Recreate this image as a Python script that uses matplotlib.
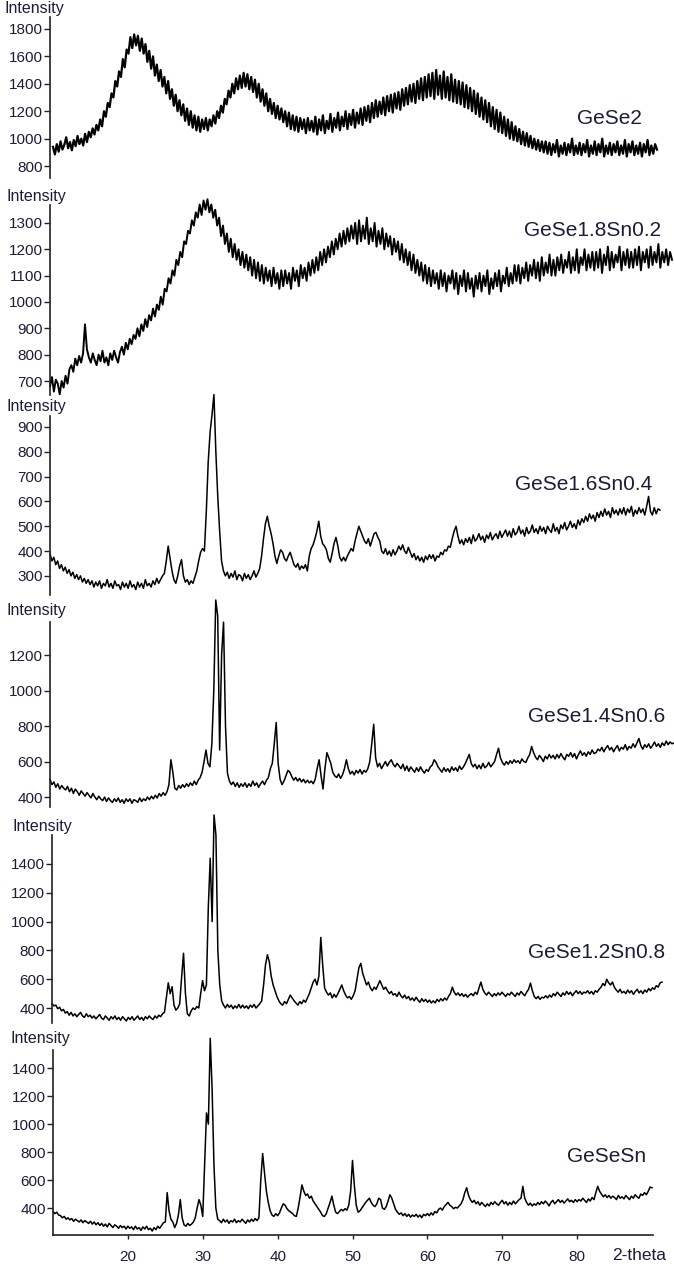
import numpy as np
import matplotlib as mpl
mpl.use('Agg')
import matplotlib.pyplot as plt

W, H = 674, 1268

# 2-theta grid, 0.25 deg steps from 10 to 90
two_theta = np.arange(10.0, 90.001, 0.25)

gese2 = [
    940, 885, 960, 905, 980, 920, 955, 1010, 930, 975, 915, 990, 945, 1020, 960, 1000, 950, 1035, 975, 1050,
    1010, 1075, 1030, 1100, 1060, 1140, 1090, 1200, 1160, 1260, 1230, 1330, 1300, 1420, 1380, 1490, 1450, 1580, 1520, 1650,
    1620, 1740, 1660, 1760, 1680, 1750, 1640, 1730, 1620, 1690, 1560, 1640, 1510, 1600, 1460, 1540, 1420, 1500, 1380, 1450,
    1330, 1420, 1290, 1360, 1240, 1320, 1200, 1280, 1170, 1250, 1130, 1220, 1100, 1200, 1080, 1170, 1060, 1160, 1050, 1140,
    1070, 1150, 1060, 1140, 1090, 1170, 1110, 1200, 1150, 1240, 1190, 1290, 1250, 1350, 1300, 1400, 1330, 1440, 1360, 1460,
    1370, 1480, 1380, 1470, 1360, 1450, 1340, 1430, 1300, 1400, 1270, 1360, 1240, 1330, 1200, 1290, 1180, 1260, 1150, 1240,
    1140, 1220, 1120, 1200, 1090, 1190, 1070, 1170, 1060, 1160, 1050, 1150, 1070, 1140, 1040, 1150, 1060, 1130, 1050, 1160,
    1030, 1140, 1060, 1170, 1040, 1130, 1070, 1180, 1050, 1150, 1080, 1190, 1060, 1160, 1090, 1200, 1070, 1180, 1100, 1210,
    1080, 1190, 1110, 1220, 1100, 1230, 1130, 1240, 1120, 1260, 1150, 1280, 1160, 1270, 1180, 1300, 1170, 1310, 1200, 1320,
    1190, 1330, 1220, 1340, 1210, 1360, 1240, 1370, 1250, 1390, 1270, 1400, 1260, 1420, 1290, 1440, 1280, 1450, 1300, 1470,
    1310, 1480, 1290, 1500, 1320, 1460, 1290, 1490, 1300, 1450, 1280, 1470, 1270, 1430, 1260, 1420, 1250, 1410, 1230, 1390,
    1220, 1370, 1200, 1350, 1180, 1330, 1160, 1300, 1140, 1280, 1120, 1260, 1090, 1230, 1070, 1210, 1050, 1190, 1040, 1160,
    1020, 1140, 1000, 1120, 990, 1090, 980, 1070, 960, 1050, 950, 1040, 940, 1020, 930, 1000, 920, 990, 910, 980,
    900, 980, 890, 970, 880, 960, 900, 990, 870, 950, 890, 970, 880, 960, 900, 1000, 880, 950, 890, 970,
    880, 960, 900, 990, 870, 950, 890, 980, 880, 960, 900, 1000, 870, 950, 890, 970, 880, 960, 900, 980,
    880, 950, 890, 990, 870, 960, 900, 980, 880, 950, 890, 970, 870, 960, 900, 990, 880, 950, 890, 960,
    920]

gese18 = [
    680, 715, 660, 705, 690, 650, 700, 675, 720, 690, 745, 760, 735, 785, 760, 795, 770, 805, 915, 820,
    790, 770, 805, 780, 760, 800, 775, 815, 770, 790, 760, 805, 780, 815, 790, 770, 810, 830, 800, 845,
    820, 860, 840, 875, 860, 900, 870, 915, 890, 935, 905, 950, 930, 975, 945, 990, 970, 1020, 990, 1050,
    1040, 1090, 1070, 1120, 1100, 1160, 1140, 1190, 1170, 1230, 1220, 1270, 1260, 1310, 1290, 1340, 1320, 1370, 1330, 1385,
    1350, 1390, 1340, 1370, 1320, 1350, 1290, 1320, 1250, 1290, 1220, 1260, 1190, 1240, 1170, 1220, 1160, 1200, 1140, 1190,
    1130, 1180, 1120, 1170, 1100, 1160, 1090, 1150, 1080, 1140, 1070, 1130, 1080, 1120, 1060, 1130, 1070, 1110, 1050, 1120,
    1060, 1120, 1070, 1110, 1050, 1130, 1080, 1120, 1060, 1140, 1090, 1130, 1080, 1150, 1100, 1160, 1110, 1170, 1120, 1190,
    1140, 1200, 1150, 1210, 1170, 1230, 1180, 1240, 1200, 1260, 1210, 1270, 1220, 1280, 1230, 1290, 1240, 1300, 1220, 1310,
    1230, 1290, 1240, 1320, 1220, 1280, 1230, 1300, 1210, 1270, 1220, 1280, 1200, 1260, 1210, 1250, 1180, 1240, 1190, 1230,
    1160, 1220, 1150, 1200, 1140, 1190, 1120, 1180, 1110, 1160, 1100, 1150, 1080, 1140, 1070, 1130, 1060, 1120, 1070, 1110,
    1050, 1120, 1060, 1110, 1040, 1100, 1070, 1120, 1050, 1110, 1030, 1100, 1060, 1120, 1040, 1110, 1050, 1090, 1020, 1100,
    1050, 1110, 1040, 1100, 1060, 1120, 1030, 1090, 1050, 1110, 1060, 1120, 1040, 1100, 1070, 1130, 1060, 1110, 1070, 1140,
    1080, 1140, 1070, 1130, 1090, 1150, 1080, 1140, 1100, 1160, 1090, 1150, 1080, 1170, 1100, 1150, 1110, 1180, 1100, 1160,
    1100, 1170, 1120, 1180, 1110, 1160, 1130, 1190, 1110, 1170, 1120, 1200, 1110, 1170, 1140, 1200, 1120, 1180, 1130, 1190,
    1120, 1190, 1130, 1200, 1110, 1180, 1140, 1210, 1120, 1190, 1130, 1180, 1150, 1210, 1120, 1190, 1140, 1200, 1130, 1190,
    1130, 1200, 1140, 1210, 1120, 1190, 1150, 1200, 1130, 1210, 1140, 1190, 1150, 1220, 1130, 1190, 1150, 1200, 1140, 1190,
    1160]

gese16 = [
    390, 360, 375, 345, 360, 330, 345, 320, 335, 310, 325, 300, 315, 290, 305, 285, 300, 275, 290, 270,
    285, 265, 280, 255, 275, 260, 280, 250, 270, 260, 285, 255, 270, 250, 280, 260, 265, 245, 275, 255,
    270, 250, 280, 255, 265, 245, 275, 255, 270, 250, 285, 260, 270, 255, 280, 265, 290, 270, 285, 300,
    310, 360, 420, 370, 320, 285, 270, 300, 340, 365, 300, 275, 285, 265, 280, 270, 295, 320, 360, 395,
    410, 400, 560, 760, 880, 950, 1030, 800, 620, 480, 360, 320, 300, 315, 290, 310, 295, 320, 285, 305,
    300, 280, 310, 290, 305, 285, 300, 320, 295, 310, 330, 380, 450, 510, 540, 500, 470, 430, 380, 350,
    380, 405, 395, 370, 360, 380, 395, 370, 345, 335, 350, 325, 340, 330, 345, 320, 380, 410, 425, 450,
    480, 520, 460, 430, 420, 405, 370, 355, 390, 430, 455, 420, 375, 360, 375, 360, 380, 395, 410, 400,
    440, 470, 500, 480, 460, 440, 430, 450, 420, 445, 470, 475, 455, 440, 400, 390, 410, 385, 400, 380,
    405, 385, 400, 420, 405, 425, 400, 390, 415, 395, 375, 390, 365, 380, 360, 375, 355, 380, 365, 385,
    370, 385, 360, 380, 375, 395, 385, 405, 400, 420, 415, 450, 480, 500, 460, 430, 445, 425, 450, 435,
    455, 430, 465, 440, 450, 470, 445, 460, 435, 465, 450, 475, 445, 460, 470, 450, 480, 455, 470, 485,
    460, 480, 455, 490, 465, 475, 500, 470, 485, 460, 495, 470, 480, 505, 475, 490, 470, 500, 480, 495,
    470, 500, 485, 475, 510, 480, 495, 470, 505, 490, 515, 485, 500, 520, 495, 510, 490, 525, 505, 530,
    515, 540, 520, 550, 530, 545, 520, 555, 535, 560, 540, 570, 545, 560, 535, 575, 550, 565, 545, 570,
    550, 575, 545, 570, 555, 580, 540, 565, 550, 575, 555, 570, 545, 580, 620, 560, 545, 575, 550, 570,
    565]

gese14 = [
    500, 470, 485, 455, 475, 445, 465, 450, 440, 460, 430, 450, 420, 445, 430, 410, 435, 420, 405, 425,
    410, 395, 420, 400, 385, 405, 390, 380, 400, 375, 395, 380, 370, 390, 375, 395, 370, 385, 365, 390,
    375, 390, 365, 385, 380, 370, 395, 375, 390, 380, 400, 385, 405, 390, 410, 395, 420, 405, 425, 410,
    430, 470, 610, 540, 450, 440, 465, 450, 470, 455, 475, 460, 480, 465, 490, 470, 495, 510, 540, 600,
    665, 590, 570, 700, 1000, 1510, 1420, 665, 1200, 1385, 800, 535, 490, 470, 485, 460, 480, 455, 475, 460,
    480, 455, 475, 460, 490, 465, 480, 455, 475, 490, 470, 495, 510, 560, 590, 700, 820, 590, 500, 470,
    490, 520, 550, 540, 515, 495, 510, 490, 505, 485, 500, 480, 495, 480, 490, 475, 500, 560, 610, 520,
    445, 560, 650, 620, 590, 540, 520, 510, 530, 505, 525, 560, 610, 560, 530, 545, 525, 550, 535, 555,
    530, 550, 540, 560, 600, 700, 810, 620, 570, 590, 560, 580, 600, 575, 595, 610, 585, 570, 590, 575,
    560, 585, 550, 575, 545, 570, 555, 540, 565, 545, 570, 550, 535, 555, 545, 570, 580, 610, 595, 570,
    555, 540, 565, 545, 560, 540, 570, 550, 565, 545, 575, 555, 570, 590, 615, 640, 590, 570, 585, 560,
    580, 560, 590, 565, 575, 595, 570, 585, 600, 640, 675, 620, 595, 580, 600, 585, 605, 590, 610, 595,
    605, 590, 615, 600, 595, 620, 640, 685, 650, 625, 610, 635, 620, 600, 630, 615, 640, 620, 635, 615,
    640, 620, 645, 625, 610, 640, 630, 650, 625, 645, 615, 640, 660, 635, 650, 630, 655, 640, 665, 645,
    650, 670, 660, 680, 655, 675, 690, 665, 680, 655, 675, 690, 660, 680, 670, 695, 665, 685, 675, 700,
    680, 705, 730, 690, 670, 695, 680, 700, 675, 690, 710, 685, 700, 680, 705, 690, 715, 695, 710, 700,
    705]

gese12 = [
    430, 415, 420, 395, 405, 380, 390, 365, 375, 350, 370, 345, 360, 340, 355, 370, 345, 335, 360, 340,
    350, 330, 345, 325, 340, 355, 330, 320, 345, 330, 315, 340, 325, 345, 320, 335, 315, 340, 325, 310,
    335, 320, 340, 315, 330, 345, 320, 335, 315, 340, 325, 345, 330, 320, 345, 330, 350, 340, 360, 370,
    470, 575, 500, 548, 420, 385, 400, 430, 615, 780, 500, 360, 345, 380, 400, 390, 410, 400, 500, 590,
    520, 560, 1100, 1440, 1000, 1740, 1600, 800, 560, 450, 420, 400, 425, 405, 420, 395, 415, 400, 425, 400,
    420, 400, 415, 395, 420, 405, 425, 400, 415, 430, 450, 560, 700, 770, 720, 620, 560, 520, 480, 450,
    430, 420, 445, 430, 460, 490, 470, 450, 435, 420, 445, 430, 455, 440, 470, 500, 540, 580, 600, 560,
    620, 890, 700, 540, 510, 490, 505, 470, 495, 475, 500, 530, 560, 520, 490, 470, 480, 460, 485, 520,
    600, 680, 710, 640, 600, 560, 580, 540, 520, 545, 530, 560, 590, 560, 530, 545, 520, 500, 515, 490,
    500, 480, 510, 485, 470, 490, 465, 480, 455, 470, 450, 475, 455, 440, 465, 445, 460, 440, 455, 435,
    450, 435, 460, 445, 465, 450, 470, 455, 480, 500, 545, 510, 490, 505, 485, 500, 480, 495, 475, 490,
    500, 485, 510, 495, 540, 580, 530, 505, 490, 510, 495, 480, 500, 485, 505, 490, 510, 495, 480, 500,
    490, 510, 495, 480, 505, 490, 515, 500, 485, 510, 530, 573, 520, 480, 465, 480, 460, 475, 470, 485,
    470, 490, 475, 500, 485, 510, 495, 480, 505, 490, 515, 495, 510, 485, 505, 520, 500, 515, 495, 510,
    505, 520, 500, 515, 495, 520, 510, 530, 545, 570, 555, 600, 575, 560, 580, 545, 525, 510, 530, 505,
    515, 500, 525, 505, 520, 495, 515, 530, 505, 520, 500, 525, 510, 535, 520, 540, 530, 555, 545, 575,
    580]

gesesn = [
    375, 360, 370, 350, 345, 330, 340, 320, 330, 315, 325, 305, 320, 310, 300, 315, 295, 310, 300, 290,
    305, 285, 300, 280, 295, 275, 290, 270, 285, 265, 290, 275, 260, 280, 270, 255, 275, 260, 270, 250,
    270, 255, 265, 245, 270, 250, 260, 240, 265, 250, 270, 245, 255, 235, 260, 245, 270, 255, 275, 295,
    300, 510, 380, 320, 300, 260, 290, 350, 460, 330, 280, 270, 290, 275, 285, 300, 330, 400, 460, 420,
    340, 700, 1080, 1000, 1614, 1250, 700, 400, 320, 310, 295, 320, 300, 315, 290, 310, 300, 320, 295, 310,
    300, 320, 305, 290, 315, 300, 320, 305, 325, 310, 330, 600, 790, 650, 520, 440, 380, 350, 340, 360,
    345, 365, 400, 430, 420, 395, 380, 370, 360, 345, 340, 400, 480, 565, 520, 490, 500, 470, 485, 450,
    430, 410, 390, 370, 345, 340, 360, 400, 440, 485, 420, 370, 360, 375, 390, 380, 395, 385, 420, 520,
    740, 560, 420, 370, 380, 400, 420, 440, 455, 470, 440, 420, 410, 430, 470, 460, 400, 390, 410, 450,
    495, 470, 430, 390, 370, 355, 365, 345, 360, 340, 355, 335, 350, 340, 355, 335, 350, 330, 355, 345,
    360, 345, 365, 350, 375, 365, 390, 400, 385, 410, 425, 440, 420, 410, 395, 405, 400, 415, 430, 460,
    510, 545, 490, 460, 440, 455, 430, 445, 420, 440, 425, 410, 430, 415, 440, 425, 445, 430, 420, 440,
    455, 430, 445, 420, 440, 425, 450, 430, 445, 460, 470, 555, 470, 440, 420, 435, 415, 430, 420, 440,
    425, 445, 430, 450, 435, 415, 440, 455, 430, 445, 460, 440, 455, 435, 450, 465, 445, 455, 440, 460,
    445, 460, 450, 470, 455, 440, 465, 450, 475, 460, 510, 555, 520, 500, 480, 495, 475, 490, 470, 485,
    475, 460, 490, 470, 480, 465, 490, 475, 460, 485, 470, 495, 480, 470, 500, 490, 510, 495, 520, 550,
    545]

names = ['GeSe2', 'GeSe1.8Sn0.2', 'GeSe1.6Sn0.4', 'GeSe1.4Sn0.6', 'GeSe1.2Sn0.8', 'GeSeSn']
intensity = [gese2, gese18, gese16, gese14, gese12, gesesn]
yticks = [
    [800, 1000, 1200, 1400, 1600, 1800],
    [700, 800, 900, 1000, 1100, 1200, 1300],
    [300, 400, 500, 600, 700, 800, 900],
    [400, 600, 800, 1000, 1200],
    [400, 600, 800, 1000, 1200, 1400],
    [400, 600, 800, 1000, 1200, 1400],
]
xticks = [20, 30, 40, 50, 60, 70, 80]

# pixel layout: spine x, x of 10 deg, x of 90 deg, top, bottom, ymin, ymax
layout = [
    (50, 53, 657, 17, 178, 713, 1887),
    (50, 50, 672, 205, 395, 647, 1368),
    (50, 50, 660, 416, 595, 223, 944),
    (50, 50, 674, 622, 807, 344, 1386),
    (52, 52, 662, 835, 1023, 296, 1601),
    (53, 53, 652, 1050, 1235, 207, 1530),
]
line_w = [1.6, 1.4, 1.1, 1.1, 1.1, 1.1]
# label positions (left x, center y) in pixels
name_pos = [(577, 119), (524, 230), (515, 484), (528, 716), (528, 952), (567, 1157)]
ylab_pos = [(5, 8), (6, 196), (6, 406), (7, 611), (12, 826), (10, 1038)]

txt = '#1c1c3a'
plt.rcParams['font.family'] = ['Liberation Sans', 'DejaVu Sans']

fig = plt.figure(figsize=(W / 100, H / 100), dpi=100)

for i in range(6):
    sp, x0, x1, top, bot, ymin, ymax = layout[i]
    ppd = (x1 - x0) / 80.0
    xmin = 10 - (x0 - sp) / ppd
    xmax = 90.2 if i == 5 else 90.0
    right = x0 + (xmax - 10) * ppd
    ax = fig.add_axes([sp / W, 1 - bot / H, (right - sp) / W, (bot - top) / H])
    ax.plot(two_theta, intensity[i], color='black', lw=line_w[i], clip_on=False)
    ax.set_xlim(xmin, xmax)
    ax.set_ylim(ymin, ymax)
    ax.set_facecolor('none')
    for s in ['top', 'right']:
        ax.spines[s].set_visible(False)
    ax.spines['left'].set_color('#222222')
    ax.spines['left'].set_linewidth(1.2)
    ax.set_yticks(yticks[i])
    ax.tick_params(axis='y', direction='out', length=4, width=1, pad=1,
                   labelsize=11, labelcolor=txt, color='#222222')
    if i == 5:
        ax.spines['bottom'].set_color('#222222')
        ax.spines['bottom'].set_linewidth(1.2)
        ax.set_xticks(xticks)
        ax.tick_params(axis='x', direction='out', length=3, width=1, pad=8,
                       labelsize=11, labelcolor=txt, color='#222222')
    else:
        ax.spines['bottom'].set_visible(False)
        ax.set_xticks([])

    fig.text(ylab_pos[i][0] / W, 1 - ylab_pos[i][1] / H, 'Intensity',
             fontsize=11.5, color=txt, ha='left', va='center')
    fig.text(name_pos[i][0] / W, 1 - name_pos[i][1] / H, names[i],
             fontsize=15, color=txt, ha='left', va='center')

# axis title sits at the right edge and runs past it, as in the original
fig.text(612 / W, 1 - 1256 / H, '2-theta', fontsize=12.5, color=txt,
         ha='left', va='center')

plt.savefig('out.png', dpi=100)
plt.close('all')
